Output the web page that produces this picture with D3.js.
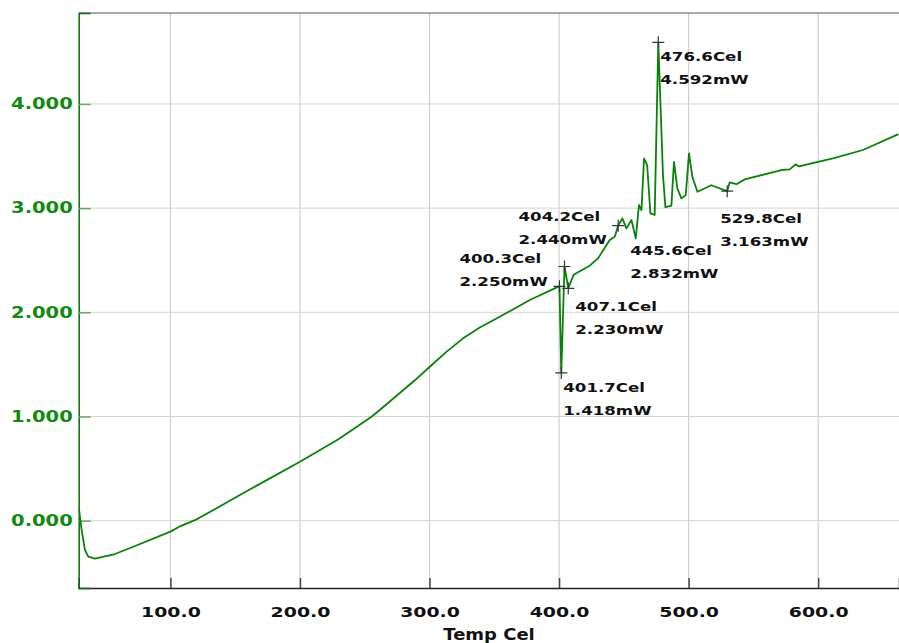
<!doctype html>
<html lang="en">
<head>
<meta charset="UTF-8" />
<title>DSC curve</title>
<script src="https://d3js.org/d3.v7.min.js"></script>
<style>
  body { margin: 0; background: #fff; }
  svg text { font-family: "DejaVu Sans", Verdana, sans-serif; font-weight: bold; }
</style>
</head>
<body>
<svg id="chart" width="899" height="643"></svg>
<script>
// curve: temperature (Cel) and heat flow (mW)
const temps = [29.2, 31.5, 34.0, 36.6, 41.7, 57.2, 71.3, 100, 107.3, 118.9, 135, 153.6, 200, 230, 255.2, 261.6,
  288.9, 300.2, 313, 325.9, 338.8, 351.7, 377.4, 396.7, 400.3, 401.7, 404.2, 407.1, 411.2, 423.9, 430.1,
  439.1, 443, 445.6, 448.9, 452, 455.9, 459.2, 461.7, 463.6, 465.6, 468, 470.5, 473.8, 476.6,
  480.2, 482.1, 486.7, 488.7, 491.3, 494.4, 497.8, 500.3, 502.9, 506.8, 517.6, 529.8, 531.7,
  536.9, 543.3, 571.6, 578, 582.6, 585.2, 599.8, 611.4, 634.6, 662];
const values = [0.13, -0.09, -0.28, -0.345, -0.365, -0.32, -0.25, -0.105, -0.055, 0.005, 0.115, 0.247, 0.566, 0.785, 0.998, 1.062,
  1.35, 1.478, 1.62, 1.75, 1.855, 1.94, 2.118, 2.23, 2.25, 1.418, 2.44, 2.23, 2.36, 2.45, 2.518,
  2.694, 2.726, 2.832, 2.90, 2.806, 2.886, 2.71, 3.03, 2.98, 3.478, 3.414, 2.95, 2.934, 4.592,
  3.318, 3.01, 3.023, 3.445, 3.19, 3.094, 3.126, 3.526, 3.30, 3.157, 3.22, 3.163, 3.248,
  3.23, 3.276, 3.366, 3.372, 3.42, 3.40, 3.445, 3.478, 3.558, 3.711];

// marked points
const markTemps = [476.6, 404.2, 400.3, 445.6, 529.8, 407.1, 401.7];
const markValues = [4.592, 2.440, 2.250, 2.832, 3.163, 2.230, 1.418];
// where each label sits relative to its marker
const markOffsets = [[2, 19], [-46, -45], [-100, -23], [12, 29], [-7, 32], [7, 23], [2, 19]];

const xTicks = [100, 200, 300, 400, 500, 600];
const yTicks = [0, 1, 2, 3, 4];

const plotL = 78.7, plotR = 899, plotT = 13, plotB = 588;
const wide = 1.3; // the original font is drawn stretched sideways
const svg = d3.select("#chart");

const x = d3.scaleLinear().domain([29.2, 662.4]).range([plotL, plotR]);
const y = d3.scaleLinear().domain([-0.646, 4.873]).range([plotB, plotT]);

svg.append("clipPath").attr("id", "plot")
  .append("rect").attr("x", plotL).attr("y", plotT).attr("width", plotR - plotL).attr("height", plotB - plotT);

// grid
svg.append("g").selectAll("line").data(xTicks).join("line")
  .attr("x1", d => x(d)).attr("x2", d => x(d)).attr("y1", plotT).attr("y2", plotB)
  .attr("stroke", "#c9c9c9").attr("stroke-width", 1);
svg.append("g").selectAll("line").data(yTicks).join("line")
  .attr("x1", plotL).attr("x2", plotR).attr("y1", d => y(d)).attr("y2", d => y(d))
  .attr("stroke", "#d4d4d4").attr("stroke-width", 1);

// frame
svg.append("line").attr("x1", plotL).attr("x2", plotR).attr("y1", plotT).attr("y2", plotT)
  .attr("stroke", "#555").attr("stroke-width", 1);

// x axis
const xAxis = svg.append("g").attr("transform", `translate(0,${plotB})`)
  .call(d3.axisBottom(x).tickValues(xTicks).tickSize(-10).tickPadding(19).tickFormat(d3.format(".1f")));
xAxis.select(".domain").attr("stroke", "#222").attr("stroke-width", 1.5);
xAxis.selectAll(".tick line").attr("stroke", "#444").attr("stroke-width", 1.5);
xAxis.selectAll("text").attr("font-size", 14).attr("fill", "#111")
  .attr("transform", `scale(${wide + 0.05},1)`)
  .attr("font-family", "DejaVu Sans").attr("font-weight", "bold");

svg.append("text").attr("transform", `translate(489,640) scale(1.2,1)`).attr("text-anchor", "middle")
  .attr("font-size", 15).attr("fill", "#111").text("Temp Cel");

// y axis
const yAxis = svg.append("g").attr("transform", `translate(${plotL},0)`)
  .call(d3.axisLeft(y).tickValues(yTicks).tickSize(-12).tickPadding(6).tickFormat(d3.format(".3f")));
yAxis.select(".domain").attr("stroke", "#0a6e0a").attr("stroke-width", 1.5);
yAxis.selectAll(".tick line").attr("stroke", "#6aa86a").attr("stroke-width", 1.5);
yAxis.selectAll("text").attr("font-size", 15).attr("fill", "#118a11")
  .attr("x", -6 / wide).attr("transform", `scale(${wide},1)`)
  .attr("font-family", "DejaVu Sans").attr("font-weight", "bold");

// curve
const pts = temps.map((t, i) => [t, values[i]]);
svg.append("path").datum(pts)
  .attr("clip-path", "url(#plot)")
  .attr("fill", "none").attr("stroke", "#088208").attr("stroke-width", 1.8)
  .attr("stroke-linejoin", "round")
  .attr("d", d3.line().x(d => x(d[0])).y(d => y(d[1])));

// markers and labels
const marks = svg.append("g");
markTemps.forEach((t, i) => {
  const cx = x(t), cy = y(markValues[i]);
  marks.append("path")
    .attr("d", `M${cx - 6},${cy}H${cx + 6}M${cx},${cy - 6}V${cy + 6}`)
    .attr("stroke", "#333").attr("stroke-width", 1.2);
  const [dx, dy] = markOffsets[i];
  const lbl = marks.append("text").attr("font-size", 13).attr("fill", "#111")
    .attr("transform", `translate(${cx + dx},${cy + dy}) scale(1.28,1)`);
  lbl.append("tspan").attr("x", 0).attr("y", 0).text(t.toFixed(1) + "Cel");
  lbl.append("tspan").attr("x", 0).attr("y", 23).text(markValues[i].toFixed(3) + "mW");
});
</script>
</body>
</html>
